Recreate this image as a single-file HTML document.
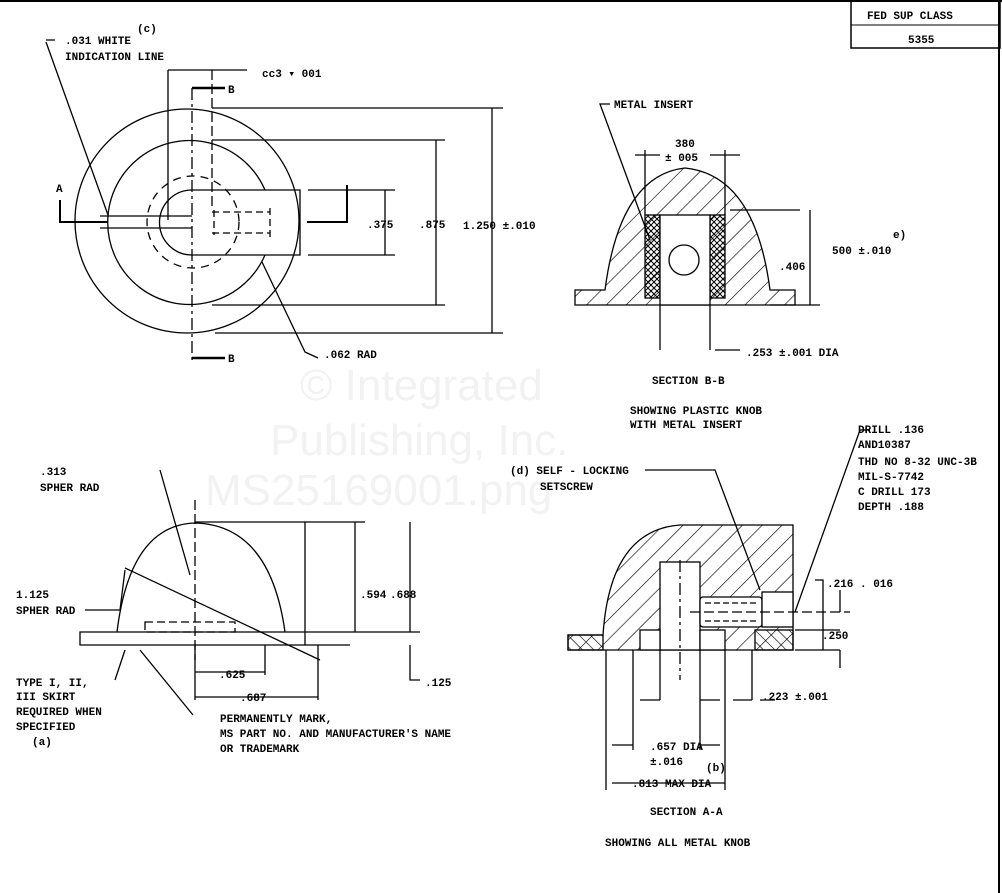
<!DOCTYPE html>
<html><head><meta charset="utf-8"><style>
html,body{margin:0;padding:0;background:#fff}
svg{display:block}
text{font-family:"Liberation Mono",monospace;font-size:11px;font-weight:bold;fill:#000}
.wm{font-family:"Liberation Sans",sans-serif;font-size:44px;font-weight:normal;fill:#f2f2f2}
</style></head><body>
<svg width="1002" height="893" viewBox="0 0 1002 893" xmlns="http://www.w3.org/2000/svg">
<defs>
<pattern id="h" width="14" height="14" patternUnits="userSpaceOnUse" patternTransform="rotate(45)"><line x1="0" y1="0" x2="0" y2="14" stroke="#000" stroke-width="1.3"/></pattern>
<pattern id="h2" width="8" height="8" patternUnits="userSpaceOnUse" patternTransform="rotate(-45)"><line x1="0" y1="0" x2="0" y2="8" stroke="#000" stroke-width="1.3"/></pattern>
<pattern id="x" width="6" height="6" patternUnits="userSpaceOnUse"><path d="M0 0L6 6M6 0L0 6" stroke="#000" stroke-width="1"/></pattern>
</defs>
<g><text x="300" y="400" class="wm">© Integrated</text><text x="270" y="455" class="wm">Publishing, Inc.</text><text x="205" y="505" class="wm">MS25169001.png</text></g>
<rect x="0" y="0" width="1002" height="2" fill="#000"/>
<line x1="999" y1="0" x2="999" y2="893" stroke="#000" stroke-width="2"/>
<rect x="851" y="1" width="149" height="47" fill="none" stroke="#000" stroke-width="1.5"/>
<line x1="851" y1="25" x2="1000" y2="25" stroke="#000"/>
<text x="867" y="19">FED SUP CLASS</text><text x="908" y="43">5355</text>

<g fill="none" stroke="#000" stroke-width="1.3">
<circle cx="187" cy="221" r="112"/>
<path d="M265 190 A82 82 0 1 0 265 255"/>
<circle cx="193" cy="222" r="46" stroke-dasharray="8,6"/>
<path d="M192 190 L300 190 L300 255 L192 255 A32 32 0 0 1 192 190Z"/>
<path d="M212 212 L270 212 M212 233 L270 233 M270 208 L270 238 M214 210 L214 235" stroke-dasharray="7,4"/>
<path d="M100 216 L192 216 M100 228 L192 228"/>
<line x1="192" y1="88" x2="192" y2="360" stroke-dasharray="12,4,3,4"/>
<line x1="212" y1="70" x2="212" y2="210" stroke-dasharray="10,4"/>
<line x1="168" y1="70" x2="168" y2="220"/>
<line x1="168" y1="70" x2="247" y2="70"/>
<path d="M192 88 L225 88 M192 358 L225 358" stroke-width="2.5"/>
<path d="M60 200 L60 222 L108 222 M307 222 L347 222 L347 185" stroke-width="2"/>
<path d="M212 108 L503 108 M212 140 L445 140 M308 190 L395 190 M308 255 L395 255 M212 305 L445 305 M215 333 L503 333"/>
<path d="M385 190 V255 M436 140 V305 M492 108 V333"/>
<path d="M46 40 L55 40 M46 42 L108 215 M318 358 L305 352 L262 262"/>
<path d="M575 290 L605 290 Q620 175 685 168 Q755 175 770 290 L795 290 L795 305 L575 305Z" fill="url(#h)"/>
<rect x="645" y="215" width="15" height="83" fill="url(#x)"/>
<rect x="710" y="215" width="15" height="83" fill="url(#x)"/>
<rect x="660" y="215" width="50" height="90" fill="#fff"/>
<circle cx="684" cy="260" r="15"/>
<path d="M660 305 V350 M710 305 V350 M645 150 V215 M725 150 V215 M635 155 L660 155 M710 155 L740 155"/>
<path d="M730 210 L800 210 M770 305 L820 305 M810 210 V305 M715 350 L740 350"/>
<path d="M610 104 L600 104 L650 240"/>
<path d="M568 635 L603 635 Q610 530 680 525 L793 525 L793 650 L568 650Z" fill="url(#h)"/>
<rect x="568" y="635" width="35" height="15" fill="url(#h2)"/>
<rect x="755" y="630" width="38" height="20" fill="url(#h2)"/>
<rect x="660" y="562" width="40" height="88" fill="#fff"/>
<rect x="640" y="630" width="20" height="20" fill="#fff"/>
<rect x="700" y="630" width="25" height="20" fill="#fff"/>
<rect x="700" y="597" width="62" height="30" fill="#fff" rx="3"/>
<rect x="762" y="592" width="31" height="35" fill="#fff"/>
<path d="M705 603 L758 603 M705 621 L758 621" stroke-dasharray="6,3"/>
<line x1="680" y1="560" x2="680" y2="680" stroke-dasharray="12,4,3,4"/>
<path d="M690 612 L850 612" stroke-dasharray="10,4"/>
<path d="M606 650 V790 M633 650 V750 M660 650 V700 M700 650 V750 M725 650 V790 M752 650 V700"/>
<path d="M612 745 L633 745 M700 745 L720 745 M612 783 L725 783 M640 700 L660 700 M700 700 L720 700 M733 700 L752 700 M760 700 L775 700"/>
<path d="M815 580 L823 580 L823 650 M795 650 L840 650 M795 630 L840 630 M840 590 V612 M840 650 V668"/>
<path d="M645 470 L715 470 L760 590 M870 430 L860 430 L795 612"/>
<path d="M117 632 Q130 525 195 523 Q270 525 285 632"/>
<path d="M195 522 L305 522 L305 632"/>
<path d="M80 632 L305 632 L305 645 L80 645Z"/>
<rect x="145" y="622" width="90" height="10" stroke-dasharray="8,4"/>
<line x1="195" y1="500" x2="195" y2="660" stroke-dasharray="10,4"/>
<path d="M305 522 L365 522 M305 632 L420 632 M305 645 L350 645 M355 522 V632 M410 522 V632"/>
<path d="M195 645 V700 M265 645 V675 M318 645 V700 M195 672 L265 672 M195 697 L318 697"/>
<path d="M125 568 L320 660 M160 470 L190 575 M85 610 L120 610 L125 570 M115 680 L125 650 M193 715 L140 650 M410 645 V680 L420 680"/>
</g>

<text x="65" y="44">.031 WHITE</text><text x="137" y="32">(c)</text>
<text x="65" y="60">INDICATION LINE</text>
<text x="262" y="77">cc3 ▾ 001</text>
<text x="228" y="93">B</text><text x="228" y="362">B</text><text x="56" y="192">A</text>
<text x="367" y="228">.375</text><text x="419" y="228">.875</text><text x="463" y="229">1.250 ±.010</text>
<text x="324" y="358">.062 RAD</text>
<text x="614" y="108">METAL INSERT</text>
<text x="675" y="147">380</text><text x="665" y="161">± 005</text>
<text x="779" y="270">.406</text><text x="832" y="254">500 ±.010</text><text x="893" y="238">e)</text>
<text x="746" y="356">.253 ±.001 DIA</text>
<text x="652" y="384">SECTION B-B</text>
<text x="630" y="414">SHOWING PLASTIC KNOB</text><text x="630" y="428">WITH METAL INSERT</text>
<text x="858" y="433">DRILL .136</text><text x="858" y="448">AND10387</text>
<text x="858" y="465">THD NO 8-32 UNC-3B</text><text x="858" y="480">MIL-S-7742</text>
<text x="858" y="495">C DRILL 173</text><text x="858" y="510">DEPTH .188</text>
<text x="510" y="474">(d) SELF - LOCKING</text><text x="540" y="490">SETSCREW</text>
<text x="827" y="587">.216 . 016</text><text x="822" y="639">.250</text>
<text x="762" y="700">.223 ±.001</text>
<text x="650" y="750">.657 DIA</text><text x="650" y="765">±.016</text><text x="706" y="771">(b)</text>
<text x="632" y="787">.813 MAX DIA</text>
<text x="650" y="815">SECTION A-A</text>
<text x="605" y="846">SHOWING ALL METAL KNOB</text>
<text x="40" y="475">.313</text><text x="40" y="491">SPHER RAD</text>
<text x="16" y="598">1.125</text><text x="16" y="614">SPHER RAD</text>
<text x="360" y="598">.594</text><text x="390" y="598">.688</text>
<text x="219" y="678">.625</text><text x="240" y="701">.687</text>
<text x="425" y="686">.125</text>
<text x="16" y="686">TYPE I, II,</text><text x="16" y="700">III SKIRT</text>
<text x="16" y="715">REQUIRED WHEN</text><text x="16" y="730">SPECIFIED</text><text x="32" y="745">(a)</text>
<text x="220" y="722">PERMANENTLY MARK,</text>
<text x="220" y="737">MS PART NO. AND MANUFACTURER'S NAME</text>
<text x="220" y="752">OR TRADEMARK</text>
</svg>
</body></html>
